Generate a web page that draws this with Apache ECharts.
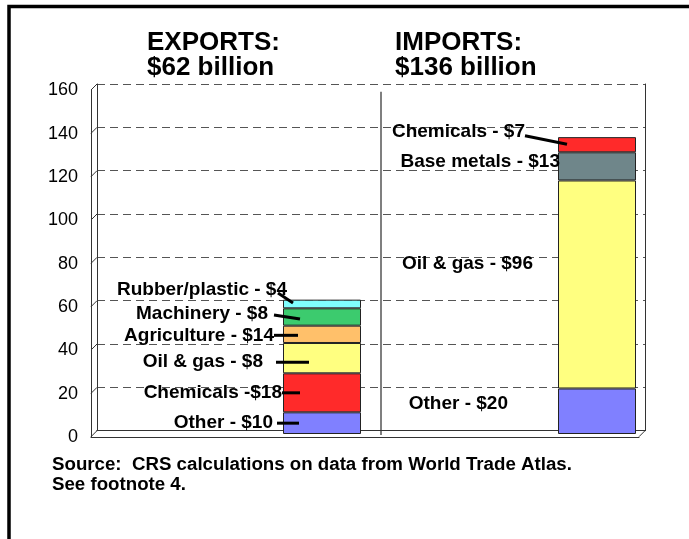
<!DOCTYPE html>
<html>
<head>
<meta charset="utf-8">
<script src="https://cdn.jsdelivr.net/npm/echarts@6/dist/echarts.min.js"></script>
<style>
html, body { margin: 0; padding: 0; background: #fff; }
#chart { width: 689px; height: 539px; }
</style>
</head>
<body>
<div id="chart"></div>
<script>
const categories = ['EXPORTS', 'IMPORTS'];
const panelTitles = ['EXPORTS:\n$62 billion', 'IMPORTS:\n$136 billion'];

// exports, bottom to top
const exportNames = ['Other', 'Chemicals', 'Oil & gas', 'Agriculture', 'Machinery', 'Rubber/plastic'];
const exportValues = [10, 18, 14, 8, 8, 4];
const exportLabels = ['Other - $10', 'Chemicals -$18', 'Oil & gas - $8', 'Agriculture - $14', 'Machinery - $8', 'Rubber/plastic - $4'];

// imports, bottom to top
const importNames = ['Other', 'Oil & gas', 'Base metals', 'Chemicals'];
const importValues = [21, 96, 13, 7];
const importLabels = ['Other - $20', 'Oil & gas - $96', 'Base metals - $13', 'Chemicals - $7'];

const yMin = 0, yMax = 160, yStep = 20;
const sourceNote = 'Source:  CRS calculations on data from World Trade Atlas.\nSee footnote 4.';

const FONT = '"Liberation Sans", Arial, Helvetica, sans-serif';
const BAR_W = 78;
const colors = {
    'Other': '#8080FF',
    'Chemicals': '#FF2A2A',
    'Oil & gas': '#FFFF80',
    'Agriculture': '#FFC06A',
    'Machinery': '#3CCB6E',
    'Rubber/plastic': '#80FFFF',
    'Base metals': '#6F868A'
};
// label placement per segment: [dx, dy, gap before leader, leader length]
// optional 5th entry: slanted leader [x1, y1, x2, y2] relative to bar left edge / segment middle
const exportLabelPos = [
    [16, 0, 4, 22], [17, 0, 0, 18], [26, 4, 13, 33], [15, 1, 0, 24],
    [-15, -3, 0, 0, [-9, -2, 17, 2]],
    [4, -14, 0, 0, [-5, -11, 10, -1]]
];
const importLabelPos = [
    [-50, -7, 0, 0], [-25, -21, 0, 0], [2, -5, 0, 0],
    [-33, -13, 0, 0, [-33, -9, 9, -0.5]]
];

// three planes of the pseudo-3D box; the bar plane puts the two
// categories on its edges (boundaryGap off) so each bar sits right of its panel
const back = { left: 97, top: 84, right: 44, bottom: 108.3 };
const bars = { left: 322, top: 87.3, right: 92, bottom: 105 };
const front = { left: 91, top: 90.3, right: 50, bottom: 102 };

const chartDom = document.getElementById('chart');
const myChart = echarts.init(chartDom);

function segLabel(text, pos) {
    const [dx, dy, gap, len] = pos;
    let fmt = '{t|' + text + '}';
    if (gap > 0) fmt += '{g| }';
    if (len > 0) fmt += '{l| }';
    return {
        show: true,
        position: 'left',
        distance: 0,
        offset: [dx, dy],
        formatter: fmt,
        rich: {
            t: { fontFamily: FONT, fontSize: 19, fontWeight: 'bold', color: '#000' },
            g: { width: gap, fontSize: 4 },
            l: { width: len, height: 3, backgroundColor: '#000', fontSize: 3, lineHeight: 3 }
        }
    };
}

function buildSeries(names, values, labels, posList, idx, stack) {
    return names.map(function (name, i) {
        const data = categories.map(function (c, j) {
            if (j !== idx) return '-';
            return { value: values[i], label: segLabel(labels[i], posList[i]) };
        });
        return {
            name: name + ' (' + categories[idx].toLowerCase() + ')',
            type: 'bar',
            stack: stack,
            xAxisIndex: 2,
            yAxisIndex: 2,
            barWidth: BAR_W,
            barGap: '-100%',
            clip: false,
            itemStyle: { color: colors[name], borderColor: '#222', borderWidth: 1 },
            data: data
        };
    });
}

const series = buildSeries(exportNames, exportValues, exportLabels, exportLabelPos, 0, 'exp')
    .concat(buildSeries(importNames, importValues, importLabels, importLabelPos, 1, 'imp'));

const lineStyle = { color: '#333', width: 1 };
const hiddenAxis = { axisLabel: { show: false }, axisTick: { show: false }, splitLine: { show: false } };

const option = {
    backgroundColor: '#fff',
    animation: false,
    title: [
        {
            text: panelTitles[0], left: 147, top: 30, padding: 0,
            textStyle: { fontFamily: FONT, fontSize: 26, fontWeight: 'bold', lineHeight: 25, color: '#000' }
        },
        {
            text: panelTitles[1], left: 395, top: 30, padding: 0,
            textStyle: { fontFamily: FONT, fontSize: 26, fontWeight: 'bold', lineHeight: 25, color: '#000' }
        },
        {
            text: sourceNote, left: 52, top: 455, padding: 0,
            textStyle: { fontFamily: FONT, fontSize: 18.7, fontWeight: 'bold', lineHeight: 20, color: '#000' }
        }
    ],
    grid: [back, bars, front],
    xAxis: [
        Object.assign({ type: 'category', gridIndex: 0, data: categories, axisLine: { show: true, lineStyle: lineStyle } }, hiddenAxis),
        Object.assign({ type: 'category', gridIndex: 0, position: 'top', data: categories, axisLine: { show: true, lineStyle: lineStyle } }, hiddenAxis),
        { type: 'category', gridIndex: 1, data: categories, boundaryGap: false, show: false },
        Object.assign({ type: 'category', gridIndex: 2, data: categories, axisLine: { show: true, lineStyle: lineStyle } }, hiddenAxis)
    ],
    yAxis: [
        {
            type: 'value', gridIndex: 0, min: yMin, max: yMax, interval: yStep,
            axisLine: { show: true, lineStyle: lineStyle },
            axisTick: { show: false }, axisLabel: { show: false },
            splitLine: { show: true, lineStyle: { color: '#555', width: 1, type: [8, 5] } }
        },
        Object.assign({ type: 'value', gridIndex: 0, position: 'right', min: yMin, max: yMax, axisLine: { show: true, lineStyle: lineStyle } }, hiddenAxis),
        { type: 'value', gridIndex: 1, min: yMin, max: yMax, show: false },
        {
            type: 'value', gridIndex: 2, min: yMin, max: yMax, interval: yStep,
            axisLine: { show: true, lineStyle: lineStyle },
            axisTick: { show: false },
            splitLine: { show: false },
            axisLabel: { margin: 13, padding: [5, 0, 0, 0], fontFamily: FONT, fontSize: 18, color: '#000' }
        }
    ],
    series: series
};

myChart.setOption(option);

// depth edges of the box, placed from the back-plane axis
const depthX = back.left - front.left;
const graphics = [
    {
        type: 'rect', silent: true,
        shape: { x: 9, y: 6.6, width: 720, height: 600 },
        style: { fill: 'none', stroke: '#000', lineWidth: 3.5 }
    },
    {
        type: 'line', silent: true,
        shape: { x1: 381, y1: 91.7, x2: 381, y2: 435 },
        style: { stroke: '#7f7f7f', lineWidth: 2 }
    }
];
for (let v = yMin; v <= yMax; v += yStep) {
    const y = myChart.convertToPixel({ yAxisIndex: 0 }, v);
    graphics.push({
        type: 'line', silent: true,
        shape: { x1: back.left, y1: y, x2: front.left, y2: y + depthX },
        style: { stroke: '#333', lineWidth: 1 }
    });
}
const y0 = myChart.convertToPixel({ yAxisIndex: 0 }, yMin);
graphics.push({
    type: 'line', silent: true,
    shape: { x1: 689 - back.right, y1: y0, x2: 689 - front.right, y2: y0 + depthX },
    style: { stroke: '#333', lineWidth: 1 }
});

// slanted leader lines, anchored on the segment they point to
function addLeaders(values, posList, idx) {
    let cum = 0;
    values.forEach(function (v, i) {
        const mid = cum + v / 2;
        cum += v;
        const slant = posList[i][4];
        if (!slant) return;
        const p = myChart.convertToPixel({ xAxisIndex: 2, yAxisIndex: 2 }, [idx, mid]);
        const left = p[0] - BAR_W / 2;
        graphics.push({
            type: 'line', silent: true, z: 10,
            shape: { x1: left + slant[0], y1: p[1] + slant[1], x2: left + slant[2], y2: p[1] + slant[3] },
            style: { stroke: '#000', lineWidth: 3 }
        });
    });
}
addLeaders(exportValues, exportLabelPos, 0);
addLeaders(importValues, importLabelPos, 1);

myChart.setOption({ graphic: graphics });
</script>
</body>
</html>
